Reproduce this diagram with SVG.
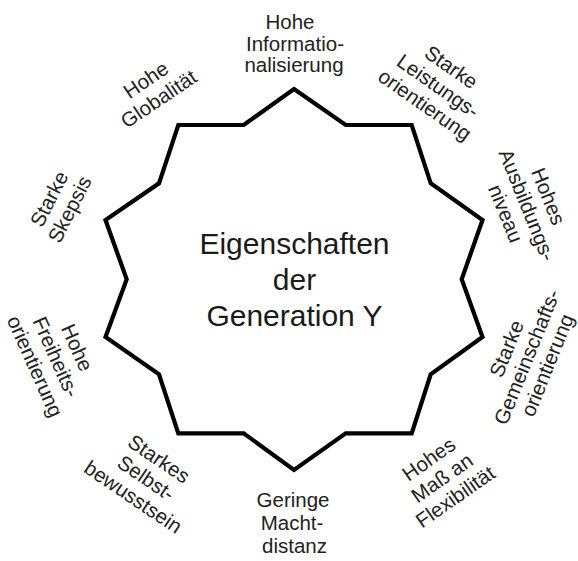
<svg xmlns="http://www.w3.org/2000/svg" width="578" height="561" viewBox="0 0 578 561">
<style>
.lbl{font-family:"Liberation Sans",Arial,sans-serif;font-size:20.5px;fill:#222;text-anchor:middle}
.ctr{font-family:"Liberation Sans",Arial,sans-serif;font-size:30px;fill:#1a1a1a;text-anchor:middle}
.star{fill:#fff;stroke:#000;stroke-width:4.2;stroke-linejoin:miter}
</style>
<rect width="578" height="561" fill="#fff"/>
<g id="connectors"></g>
<g id="star">
<polygon class="star" points="294,89 345.7,125 411.7,125 430.7,183.3 482.5,220 461.7,279.3 482.5,337 430.7,374.3 411.7,433.3 345.7,433.3 294,470 243.7,433.3 178.3,433.3 159,374.3 105.5,337 126.7,279.3 105.5,220 159,183.3 178.3,125 243.7,125"/>
<text class="ctr" x="294.5" y="254">Eigenschaften</text>
<text class="ctr" x="294.5" y="290">der</text>
<text class="ctr" x="294.5" y="326">Generation Y</text>
</g>
<g id="n-info" class="lbl">
<text x="290" y="29">Hohe</text>
<text x="295" y="50.5">Informatio-</text>
<text x="294" y="72">nalisierung</text>
</g>
<g id="n-leistung" class="lbl" transform="translate(438,86) rotate(35)">
<text y="-16">Starke</text>
<text y="7">Leistungs-</text>
<text y="30">orientierung</text>
</g>
<g id="n-ausbildung" class="lbl" transform="translate(527,205) rotate(68)">
<text y="-16">Hohes</text>
<text y="7">Ausbildungs-</text>
<text y="30">niveau</text>
</g>
<g id="n-gemeinschaft" class="lbl" transform="translate(527,357) rotate(-68)">
<text y="-15">Starke</text>
<text y="7">Gemeinschafts-</text>
<text y="29">orientierung</text>
</g>
<g id="n-flex" class="lbl" transform="translate(442,478) rotate(-35)">
<text y="-16">Hohes</text>
<text y="7">Maß an</text>
<text y="30">Flexibilität</text>
</g>
<g id="n-macht" class="lbl">
<text x="293" y="507">Geringe</text>
<text x="292" y="530">Macht-</text>
<text x="294.5" y="553">distanz</text>
</g>
<g id="n-selbst" class="lbl" transform="translate(146,478) rotate(34)">
<text y="-16">Starkes</text>
<text y="7">Selbst-</text>
<text y="30">bewusstsein</text>
</g>
<g id="n-freiheit" class="lbl" transform="translate(56,357) rotate(66)">
<text y="-16">Hohe</text>
<text y="7">Freiheits-</text>
<text y="30">orientierung</text>
</g>
<g id="n-skepsis" class="lbl" transform="translate(59,204) rotate(-63)">
<text y="-4">Starke</text>
<text y="19">Skepsis</text>
</g>
<g id="n-global" class="lbl" transform="translate(152,89) rotate(-34)">
<text y="-4">Hohe</text>
<text y="19">Globalität</text>
</g>
</svg>
